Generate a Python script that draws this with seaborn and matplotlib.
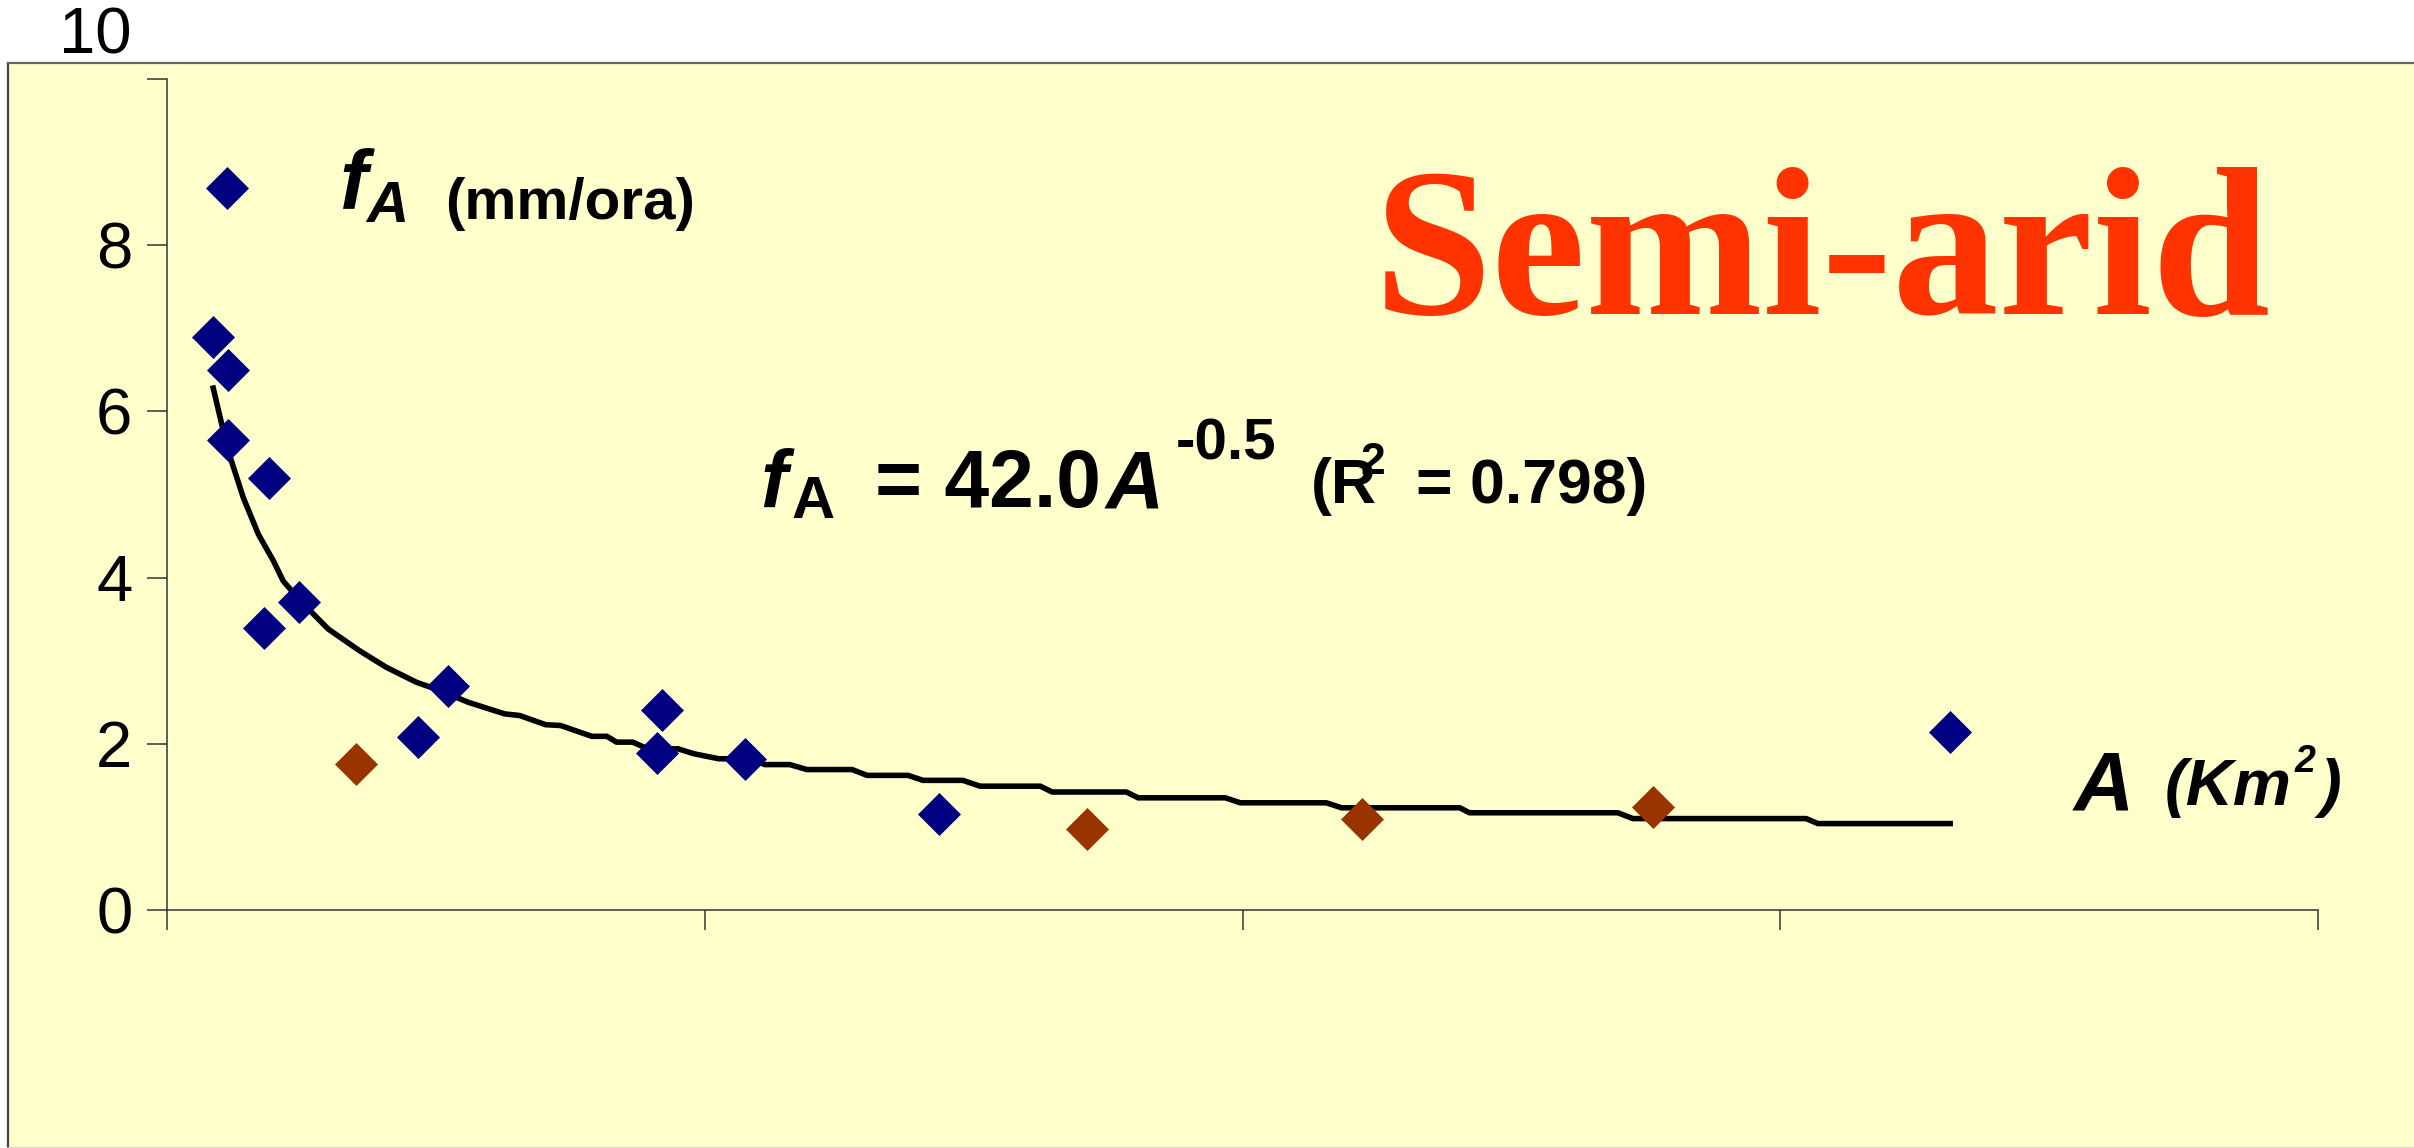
import matplotlib
matplotlib.use("Agg")
import matplotlib.pyplot as plt
import seaborn as sns
import pandas as pd
from matplotlib.patches import Rectangle
from matplotlib.lines import Line2D

# ---------------- data ----------------
area_blue = [43, 57, 57, 95, 90, 123, 233, 261, 456, 460, 537, 718, 1658]
fa_blue = [6.89, 6.50, 5.66, 5.20, 3.39, 3.71, 2.08, 2.69, 1.89, 2.41, 1.82, 1.16, 2.14]
area_brown = [176, 855, 1111, 1382]
fa_brown = [1.76, 0.97, 1.10, 1.24]
fit_area = [43, 51, 59, 71, 85, 99, 108, 124, 150, 179, 204, 232, 254, 280, 314, 328,
            352, 366, 395, 409, 418, 433, 447, 475, 490, 513, 542, 556, 579, 595, 637,
            651, 689, 703, 740, 756, 812, 823, 892, 903, 984, 998, 1078, 1092, 1202,
            1211, 1349, 1363, 1524, 1535, 1658]
fit_fa = [6.28, 5.84, 5.44, 4.96, 4.52, 4.20, 3.96, 3.72, 3.38, 3.12, 2.92, 2.74, 2.64,
          2.50, 2.36, 2.34, 2.23, 2.22, 2.09, 2.09, 2.02, 2.02, 1.94, 1.94, 1.88, 1.82,
          1.82, 1.75, 1.75, 1.69, 1.69, 1.62, 1.62, 1.56, 1.56, 1.49, 1.49, 1.42, 1.42,
          1.35, 1.35, 1.29, 1.29, 1.23, 1.23, 1.17, 1.17, 1.10, 1.10, 1.04, 1.04]
y_ticks = [0, 2, 4, 6, 8, 10]
y_tick_labels = ["0", "2", "4", "6", "8", ""]
top_label = "10"
x_ticks = [0, 500, 1000, 1500, 2000]

df_blue = pd.DataFrame({"A": area_blue, "fA": fa_blue})
df_brown = pd.DataFrame({"A": area_brown, "fA": fa_brown})
df_fit = pd.DataFrame({"A": fit_area, "fA": fit_fa})

# ---------------- style ----------------
plt.rcParams["font.family"] = ["Liberation Sans", "DejaVu Sans"]
plt.rcParams["mathtext.fontset"] = "custom"
plt.rcParams["mathtext.it"] = "Liberation Sans:italic:bold"
plt.rcParams["mathtext.rm"] = "Liberation Sans:bold"
plt.rcParams["mathtext.bf"] = "Liberation Sans:bold"

W, H = 2414, 1148
fig = plt.figure(figsize=(W / 100, H / 100), dpi=100)
fig.patch.set_facecolor("white")

YELLOW = "#FFFFCC"
BLUE = "#000080"
BROWN = "#993300"
ORANGE = "#FF3300"
MARKER_AREA = 480

# background panel (behind the axes)
fig.patches.append(Rectangle((8 / W, 0), 1.0, 1 - 63 / H, transform=fig.transFigure,
                             facecolor=YELLOW, edgecolor="none", zorder=-5))
fig.lines.append(Line2D([8 / W, 8 / W], [0, 1 - 63 / H], transform=fig.transFigure,
                        color="#444444", lw=1.6, zorder=-4))
fig.lines.append(Line2D([8 / W, 1.0], [1 - 63 / H, 1 - 63 / H], transform=fig.transFigure,
                        color="#666666", lw=1.6, zorder=-4))
fig.lines.append(Line2D([8 / W, 1.0], [0.5 / H, 0.5 / H], transform=fig.transFigure,
                        color="#D0D0C0", lw=1.2, zorder=-4))


def px(x, y):
    return x / W, 1 - y / H


y0, y10 = 910, 79
x0, x1 = 167, 2318
ax = fig.add_axes([x0 / W, 1 - y0 / H, (x1 - x0) / W, (y0 - y10) / H])
ax.patch.set_visible(False)
ax.set_zorder(1)

sns.lineplot(data=df_fit, x="A", y="fA", color="black", ax=ax,
             estimator=None, sort=False, legend=False)
for ln in ax.get_lines():
    ln.set_linewidth(4.0)
    ln.set_zorder(2)
    ln.set_solid_joinstyle("miter")

sns.scatterplot(data=df_blue, x="A", y="fA", marker="D", s=MARKER_AREA, color=BLUE,
                linewidth=0, ax=ax, label=r"$f_A$", zorder=3)
sns.scatterplot(data=df_brown, x="A", y="fA", marker="D", s=MARKER_AREA, color=BROWN,
                linewidth=0, ax=ax, zorder=3)

ax.set_xlim(x_ticks[0], x_ticks[-1])
ax.set_ylim(y_ticks[0], y_ticks[-1])
ax.set_xticks(x_ticks)
ax.set_xticklabels([])
ax.set_yticks(y_ticks)
ax.set_yticklabels(y_tick_labels)
ax.set_xlabel("")
ax.set_ylabel("")
for s in ["top", "right"]:
    ax.spines[s].set_visible(False)
for s in ["left", "bottom"]:
    ax.spines[s].set_color("#333333")
    ax.spines[s].set_linewidth(1.1)
ax.tick_params(axis="both", direction="out", length=14.4, width=1.1, color="#333333")
ax.tick_params(axis="y", labelsize=47, pad=10.5, labelcolor="black")

fig.text(*px(132, 53), top_label, ha="right", va="baseline", fontsize=47)

# legend
leg = ax.legend(loc="center left", bbox_to_anchor=px(185, 188), bbox_transform=fig.transFigure,
                frameon=False, fontsize=60, handlelength=1.0, handletextpad=0.85,
                borderpad=0, borderaxespad=0)
fig.text(*px(445, 219), "(mm/ora)", ha="left", va="baseline", fontsize=42, fontweight="bold")

# equation
fig.text(*px(760, 507), "f", fontsize=58, fontweight="bold", fontstyle="italic", va="baseline")
fig.text(*px(792, 518), "A", fontsize=43, fontweight="bold", va="baseline")
fig.text(*px(875, 507), "= 42.0", fontsize=58, fontweight="bold", va="baseline")
fig.text(*px(1106, 507), "A", fontsize=58, fontweight="bold", fontstyle="italic", va="baseline")
fig.text(*px(1176, 460), "-0.5", fontsize=42, fontweight="bold", va="baseline")
fig.text(*px(1311, 503), "(R", fontsize=45, fontweight="bold", va="baseline")
fig.text(*px(1360, 474), "2", fontsize=32, fontweight="bold", va="baseline")
fig.text(*px(1416, 503), "= 0.798)", fontsize=45, fontweight="bold", va="baseline")

# title-like label
fig.text(*px(1374, 314), "Semi-arid", fontsize=153, fontweight="bold",
         family=["Liberation Serif", "DejaVu Serif"], color=ORANGE, va="baseline")

# axis label
fig.text(*px(2074, 810), "A", fontsize=60, fontweight="bold", fontstyle="italic", va="baseline")
fig.text(*px(2165, 805), "(Km", fontsize=47, fontweight="bold", fontstyle="italic", va="baseline")
fig.text(*px(2295, 772), "2", fontsize=27, fontweight="bold", fontstyle="italic", va="baseline")
fig.text(*px(2320, 805), ")", fontsize=47, fontweight="bold", fontstyle="italic", va="baseline")

fig.savefig("out.png", dpi=100, facecolor="white")
